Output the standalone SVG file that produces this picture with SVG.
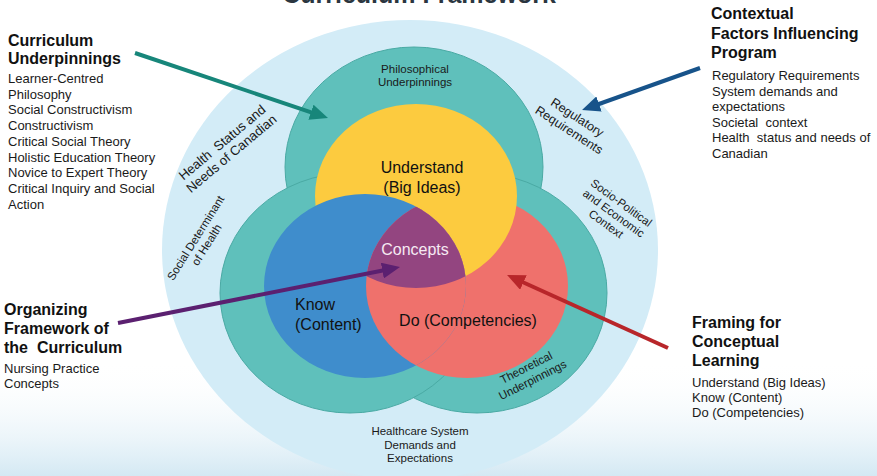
<svg xmlns="http://www.w3.org/2000/svg" width="877" height="476" viewBox="0 0 877 476">
<defs>
<style>
text{font-family:"Liberation Sans",Arial,Helvetica,sans-serif;fill:#111}
.h{font-weight:bold;font-size:16px}
.b{font-size:13px;fill:#1a1a1a}
.big{font-size:16px}
.sm{font-size:11.5px;text-anchor:middle;fill:#1a1a1a}
.rot{font-size:12.5px;text-anchor:middle;fill:#1a1a1a}
.teal{fill:#5fc0bb;stroke:#4aaaa4;stroke-width:1}
.arrow{fill:none;stroke-width:4}
</style>
<linearGradient id="wash" x1="0" y1="0" x2="0" y2="1">
<stop offset="0" stop-color="#ffffff" stop-opacity="0"/>
<stop offset="1" stop-color="#cfe6f2" stop-opacity="0.9"/>
</linearGradient>
<clipPath id="cY"><ellipse cx="416" cy="196" rx="101" ry="92"/></clipPath>
<clipPath id="cB"><ellipse cx="365" cy="286" rx="101" ry="92"/></clipPath>
<marker id="mTeal" markerUnits="userSpaceOnUse" markerWidth="18" markerHeight="16" refX="12" refY="8" orient="auto"><path d="M0,0 L18,8 L0,16 z" fill="#17867a"/></marker>
<marker id="mBlue" markerUnits="userSpaceOnUse" markerWidth="18" markerHeight="16" refX="12" refY="8" orient="auto"><path d="M0,0 L18,8 L0,16 z" fill="#17538a"/></marker>
<marker id="mPurple" markerUnits="userSpaceOnUse" markerWidth="18" markerHeight="16" refX="12" refY="8" orient="auto"><path d="M0,0 L18,8 L0,16 z" fill="#5b2070"/></marker>
<marker id="mRed" markerUnits="userSpaceOnUse" markerWidth="18" markerHeight="16" refX="12" refY="8" orient="auto"><path d="M0,0 L18,8 L0,16 z" fill="#b8262a"/></marker>
</defs>

<rect width="877" height="476" fill="#ffffff"/>
<rect x="0" y="360" width="877" height="116" fill="url(#wash)"/>

<text x="419" y="3" style="font-weight:bold;font-size:25px;text-anchor:middle;fill:#2b3640">Curriculum Framework</text>

<g id="outer-circle"><ellipse cx="410" cy="250" rx="248" ry="230" fill="#d3ecf7"/></g>

<g id="teal-top"><ellipse class="teal" cx="414" cy="167" rx="129" ry="120"/></g>
<g id="teal-right"><ellipse class="teal" cx="477" cy="293" rx="130" ry="120"/></g>
<g id="teal-left"><ellipse class="teal" cx="350" cy="293" rx="130" ry="120"/></g>

<g id="venn">
<ellipse cx="467" cy="286" rx="101" ry="92" fill="#ef716c"/>
<ellipse cx="416" cy="196" rx="101" ry="92" fill="#fccb3f"/>
<ellipse cx="365" cy="286" rx="101" ry="92" fill="#3f8dcc"/>
<g clip-path="url(#cB)"><ellipse cx="467" cy="286" rx="101" ry="92" fill="#ef716c"/></g>
<g clip-path="url(#cB)"><g clip-path="url(#cY)"><ellipse id="concepts-region" cx="467" cy="286" rx="101" ry="92" fill="#934580"/></g></g>
</g>

<g id="label-understand"><text class="big" x="422" y="173" text-anchor="middle">Understand</text><text class="big" x="422" y="193" text-anchor="middle">(Big Ideas)</text></g>
<g id="label-concepts"><text class="big" x="415" y="255" text-anchor="middle" style="fill:#f6eaf3">Concepts</text></g>
<g id="label-know"><text class="big" x="295" y="310">Know</text><text class="big" x="295" y="330">(Content)</text></g>
<g id="label-do"><text class="big" x="468" y="326" text-anchor="middle">Do (Competencies)</text></g>

<g id="label-philosophical"><text class="sm" x="415" y="73">Philosophical</text><text class="sm" x="415" y="86">Underpinnings</text></g>
<g id="label-theoretical" transform="translate(528,371) rotate(-27)"><text class="sm" x="0" y="0">Theoretical</text><text class="sm" x="0" y="14">Underpinnings</text></g>
<g id="label-healthcare"><text class="sm" x="420" y="435">Healthcare System</text><text class="sm" x="420" y="448.5">Demands and</text><text class="sm" x="420" y="462">Expectations</text></g>
<g id="label-health-status" transform="translate(225,146) rotate(-40)"><text class="rot" x="0" y="0" style="font-size:13.2px" xml:space="preserve">Health  Status and</text><text class="rot" x="0" y="14.5" style="font-size:13.2px">Needs of Canadian</text></g>
<g id="label-social-det" transform="translate(199,240) rotate(-58)"><text class="sm" x="0" y="0">Social Determinant</text><text class="sm" x="0" y="13">of Health</text></g>
<g id="label-regulatory" transform="translate(575,121) rotate(33)"><text class="rot" x="0" y="0">Regulatory</text><text class="rot" x="0" y="15">Requirements</text></g>
<g id="label-socio" transform="translate(619,206) rotate(36)"><text class="sm" x="0" y="0">Socio-Political</text><text class="sm" x="0" y="13">and Economic</text><text class="sm" x="0" y="26">Context</text></g>

<g id="connectors">
<line class="arrow" x1="135" y1="53" x2="322.3" y2="116.1" stroke="#17867a" marker-end="url(#mTeal)"/>
<line class="arrow" x1="700" y1="68" x2="587.7" y2="108" stroke="#17538a" stroke-width="3.5" marker-end="url(#mBlue)"/>
<line class="arrow" x1="118" y1="323" x2="394.1" y2="268.2" stroke="#5b2070" marker-end="url(#mPurple)"/>
<line class="arrow" x1="668" y1="348" x2="512.5" y2="277.5" stroke="#b8262a" stroke-width="3.5" marker-end="url(#mRed)"/>
</g>

<g id="curriculum-underpinnings">
<text class="h" x="8" y="46">Curriculum</text>
<text class="h" x="8" y="64">Underpinnings</text>
<text class="b" x="8" y="83">Learner-Centred</text>
<text class="b" x="8" y="98.7">Philosophy</text>
<text class="b" x="8" y="114.4">Social Constructivism</text>
<text class="b" x="8" y="130">Constructivism</text>
<text class="b" x="8" y="145.8">Critical Social Theory</text>
<text class="b" x="8" y="161.5">Holistic Education Theory</text>
<text class="b" x="8" y="177.2">Novice to Expert Theory</text>
<text class="b" x="8" y="192.9">Critical Inquiry and Social</text>
<text class="b" x="8" y="208.6">Action</text>
</g>

<g id="contextual-factors">
<text class="h" x="711" y="19">Contextual</text>
<text class="h" x="711" y="38.5">Factors Influencing</text>
<text class="h" x="711" y="58">Program</text>
<text class="b" x="712" y="80">Regulatory Requirements</text>
<text class="b" x="712" y="95.5">System demands and</text>
<text class="b" x="712" y="111">expectations</text>
<text class="b" x="712" y="126.5" xml:space="preserve">Societal  context</text>
<text class="b" x="712" y="142" xml:space="preserve">Health  status and needs of</text>
<text class="b" x="712" y="157.5">Canadian</text>
</g>

<g id="organizing-framework">
<text class="h" x="4" y="315">Organizing</text>
<text class="h" x="4" y="334">Framework of</text>
<text class="h" x="4" y="353" xml:space="preserve">the  Curriculum</text>
<text class="b" x="4" y="373">Nursing Practice</text>
<text class="b" x="4" y="388">Concepts</text>
</g>

<g id="framing">
<text class="h" x="692" y="328">Framing for</text>
<text class="h" x="692" y="347">Conceptual</text>
<text class="h" x="692" y="366">Learning</text>
<text class="b" x="692" y="387">Understand (Big Ideas)</text>
<text class="b" x="692" y="402">Know (Content)</text>
<text class="b" x="692" y="417">Do (Competencies)</text>
</g>
</svg>
